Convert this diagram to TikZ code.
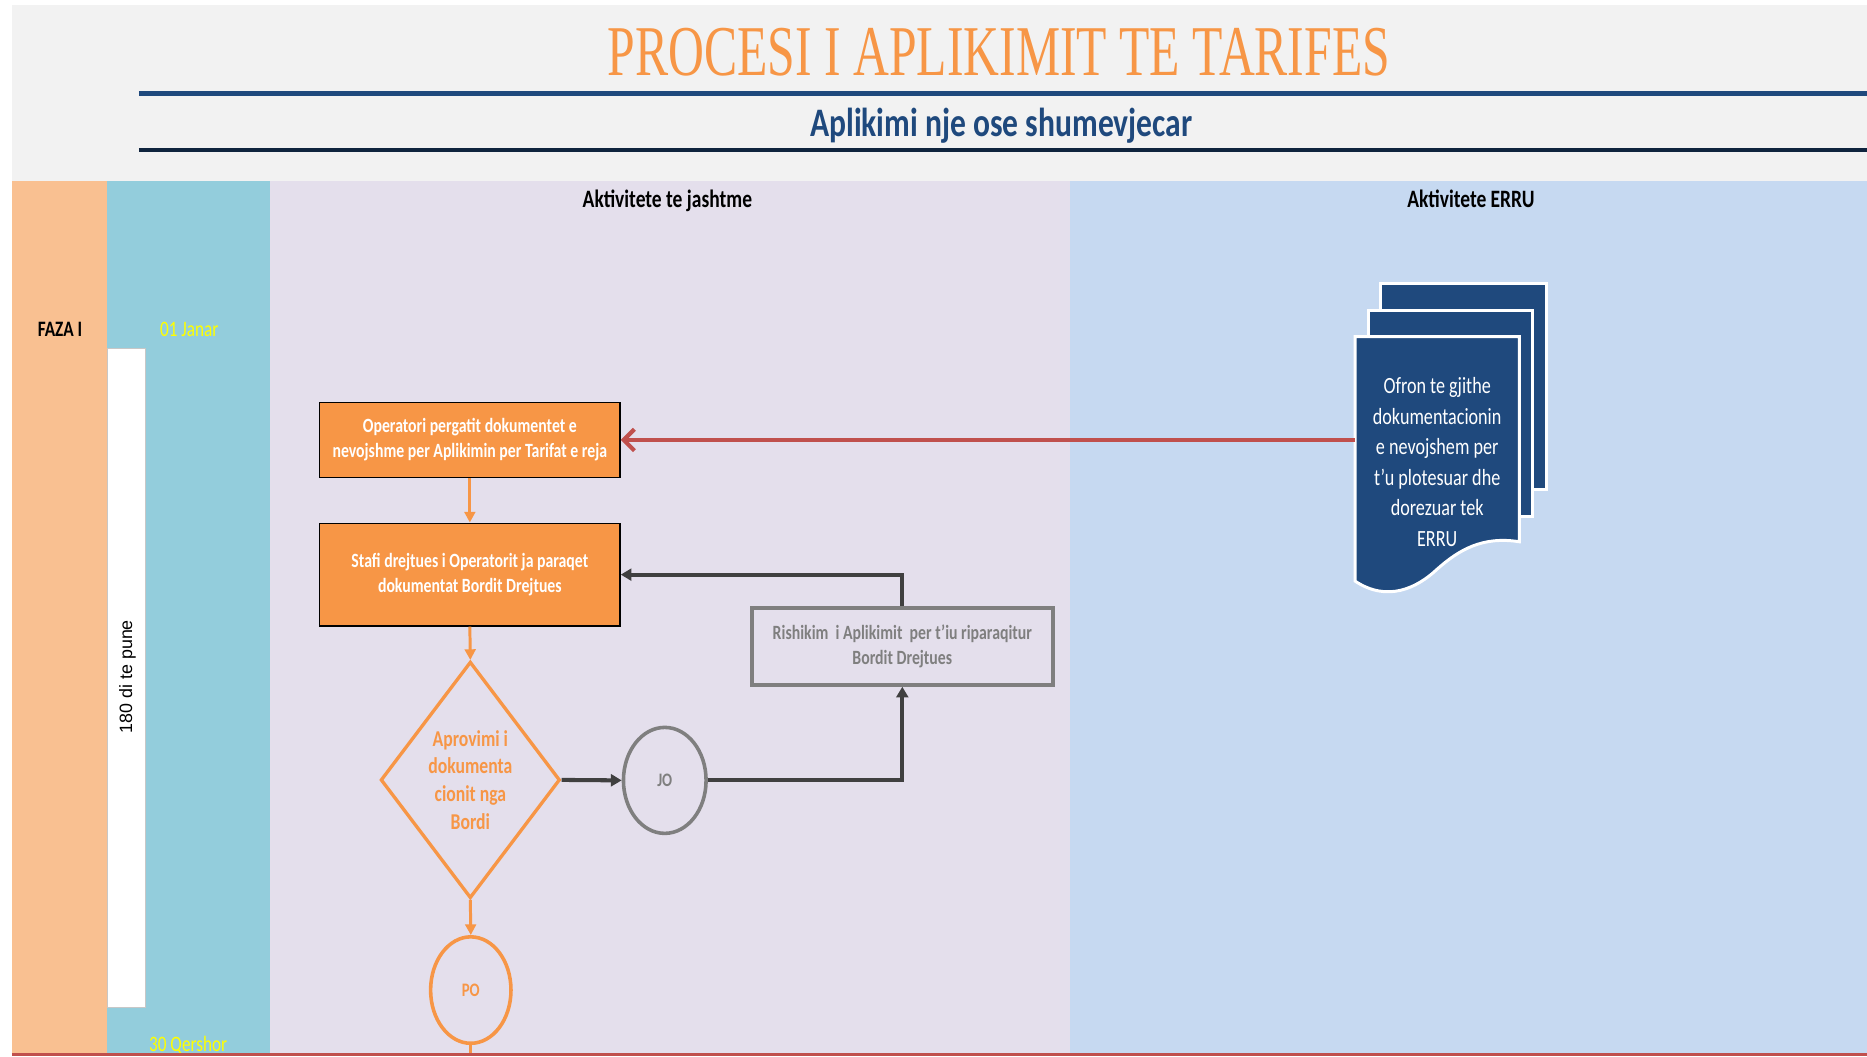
\documentclass[tikz,border=0pt]{standalone}
\usepackage{fontspec}
\setmainfont{Carlito}[FakeStretch=0.78]
\newfontfamily\titlefont{Liberation Serif}[FakeStretch=0.695]
\newfontfamily\vertfont{Liberation Sans}
\usetikzlibrary{shapes.geometric,arrows.meta}
\definecolor{bggrey}{HTML}{F2F2F2}
\definecolor{lorange}{HTML}{F9C091}
\definecolor{lteal}{HTML}{93CDDC}
\definecolor{llav}{HTML}{E4DFEC}
\definecolor{lblue}{HTML}{C6D9F1}
\definecolor{torange}{HTML}{F79646}
\definecolor{navy}{HTML}{1F497D}
\definecolor{dnavy}{HTML}{0F243E}
\definecolor{redc}{HTML}{C0504D}
\definecolor{dgrey}{HTML}{404040}
\definecolor{mgrey}{HTML}{7F7F7F}
\definecolor{yel}{HTML}{FFFF00}
\newcommand{\sq}{\char"27\relax}
\begin{document}
\begin{tikzpicture}[x=1pt,y=-1pt,
  procbox/.style={rectangle, draw=black, line width=1.3pt, fill=torange, text=white,
    font=\fontsize{17}{21}\selectfont\bfseries, align=center, minimum width=252.2pt, inner sep=0pt},
  reviewbox/.style={rectangle, draw=mgrey, line width=3.4pt, fill=llav, text=mgrey,
    font=\fontsize{17}{21}\selectfont\bfseries, align=center, minimum width=252.4pt, minimum height=64.3pt, inner sep=0pt},
  decbox/.style={diamond, draw=torange, line width=2.8pt, fill=llav, minimum width=150.6pt, minimum height=198.6pt, inner sep=0pt},
  dectext/.style={text=torange, font=\fontsize{19}{23.3}\selectfont\bfseries, align=center},
  endcirc/.style={ellipse, line width=3pt, fill=llav, font=\fontsize{16}{16}\selectfont\bfseries, inner sep=0pt},
  oarrow/.style={torange, line width=2.5pt, -{Triangle[length=9pt,width=9pt]}},
  oline/.style={torange, line width=2.5pt},
  darrow/.style={dgrey, line width=3.4pt, -{Triangle[length=9pt,width=10pt]}},
  rarrow/.style={redc, line width=4pt, -{Straight Barb[length=9pt,width=18pt,line width=3.5pt]}},
  page/.style={fill=navy, draw=white, line width=2.5pt},
  hdr/.style={font=\fontsize{21}{21}\selectfont\bfseries, anchor=base, inner sep=0pt},
  datetxt/.style={text=yel, font=\fontsize{18.5}{18.5}\selectfont, anchor=base, inner sep=0pt}
]
\useasboundingbox (0,0) rectangle (1568,887);
\fill[white] (0,0) rectangle (1568,887);
\fill[bggrey] (10,4.2) rectangle (1568,887);
% lanes
\fill[lorange] (10,152) rectangle (90,887);
\fill[lteal] (90,152) rectangle (226.6,887);
\fill[llav] (226.6,152) rectangle (899,887);
\fill[lblue] (899,152) rectangle (1568,887);
% title
\node[font=\titlefont\fontsize{60}{60}\selectfont, text=torange, anchor=base, inner sep=0pt] (title) at (839,63) {PROCESI I APLIKIMIT TE TARIFES};
\draw[navy, line width=4.2pt] (116.6,78.3) -- (1568,78.3);
\node[font=\fontsize{34}{34}\selectfont\bfseries, text=navy, anchor=base, inner sep=0pt] (sub) at (841,115) {Aplikimi nje ose shumevjecar};
\draw[dnavy, line width=3.4pt] (116.6,126) -- (1568,126);
% lane headers
\node[hdr] (h1) at (560.5,174) {Aktivitete te jashtme};
\node[hdr] (h2) at (1235.3,174) {Aktivitete ERRU};
\node[hdr, font=\fontsize{18.5}{18.5}\selectfont\bfseries] (faza) at (50.4,282.8) {FAZA I};
\node[datetxt] (d1) at (159,282.8) {01 Janar};
% white bar
\filldraw[fill=white, draw=black!22, line width=0.8pt] (90,292.5) rectangle (122,846);
\node[rotate=90, font=\vertfont\fontsize{15}{15}\selectfont, inner sep=0pt] (days) at (107,568.3) {180 di te pune};
% process
\node[procbox, minimum height=63pt] (box1) at (394.6,369.5) {Operatori pergatit dokumentet e\\nevojshme per Aplikimin per Tarifat e reja};
\node[procbox, minimum height=86.2pt] (box2) at (394.6,482.6) {Stafi drejtues i Operatorit ja paraqet\\dokumentat Bordit Drejtues};
\node[reviewbox] (review) at (757.8,542.9) {Rishikim\ \ i Aplikimit\ \ per t\sq iu riparaqitur\\Bordit Drejtues};
\node[decbox, label={[dectext]center:{Aprovimi i\\dokumenta\\cionit nga\\Bordi}}] (dia) at (395,655) {};
\node[endcirc, draw=mgrey, text=mgrey, minimum width=69.4pt, minimum height=89pt] (jo) at (558.3,655.4) {JO};
\node[endcirc, draw=torange, text=torange, minimum width=67.5pt, minimum height=89.4pt] (po) at (395.4,831.5) {PO};
\coordinate (pobot) at (395.4,886);
% document
\filldraw[page] (1159.8,238.5) rectangle (1298.4,411.5);
\filldraw[page] (1149.2,261) rectangle (1287,434);
\filldraw[page] (1138,282.8) -- (1276,282.8) -- (1276,455)
  .. controls (1245,450) and (1225,462) .. (1207,478)
  .. controls (1190,494) and (1165,506) .. (1138,488) -- cycle;
\node[text=white, font=\fontsize{19.5}{25.6}\selectfont, align=center, minimum width=138pt, inner sep=0pt] (doc) at (1207,388) {Ofron te gjithe\\dokumentacionin\\e nevojshem per\\t\sq u plotesuar dhe\\dorezuar tek\\ERRU};
% connectors
\draw[rarrow] (box1.east -| doc.west) -- (box1.east);
\draw[oarrow] (box1.south) -- (box2.north);
\draw[oarrow] (box2.south) -- (dia.north);
\draw[darrow] (dia.east) -- (jo.west);
\draw[darrow] (jo.east) -| (review.south);
\draw[darrow] (review.north) |- (box2.east);
\draw[oarrow] (dia.south) -- (po.north);
\draw[oline] (po.south) -- (pobot);
% bottom
\node[datetxt] (d2) at (158,883) {30 Qershor};
\draw[redc, line width=2.5pt] (10,885.8) -- (1568,885.8);
\end{tikzpicture}
\end{document}
